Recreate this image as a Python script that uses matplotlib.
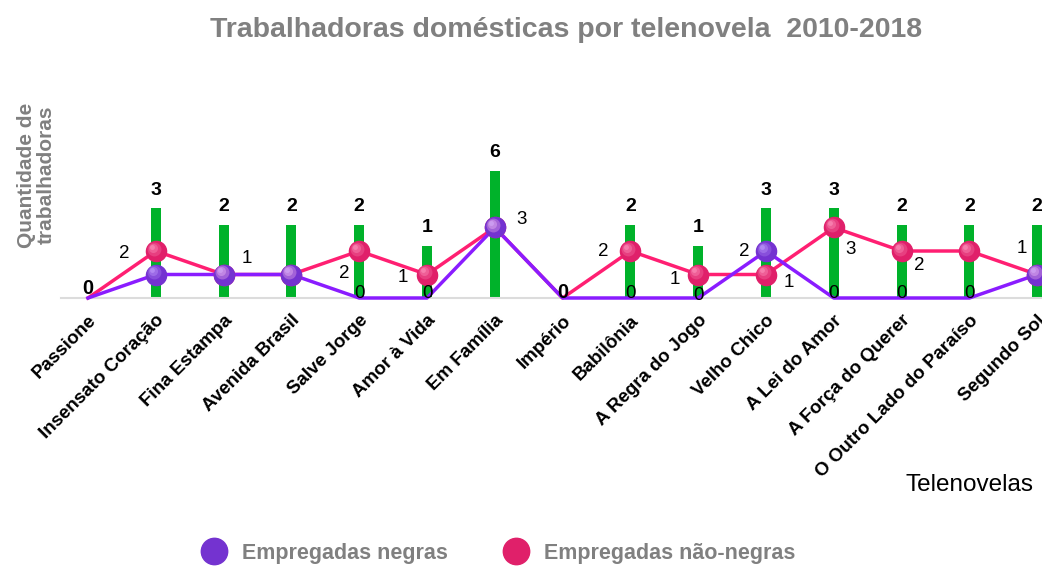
import numpy as np
import matplotlib
matplotlib.use("Agg")
import matplotlib.pyplot as plt
from matplotlib.lines import Line2D
from matplotlib.transforms import offset_copy

plt.rcParams['font.family'] = ['Liberation Sans', 'DejaVu Sans']

# data
novelas = ["Passione", "Insensato Coração", "Fina Estampa", "Avenida Brasil",
           "Salve Jorge", "Amor à Vida", "Em Família", "Império", "Babilônia",
           "A Regra do Jogo", "Velho Chico", "A Lei do Amor", "A Força do Querer",
           "O Outro Lado do Paraíso", "Segundo Sol"]
total = [0, 3, 2, 2, 2, 1, 6, 0, 2, 1, 3, 3, 2, 2, 2]
negras = [0, 1, 1, 1, 0, 0, 3, 0, 0, 0, 2, 0, 0, 0, 1]
nao_negras = [0, 2, 1, 1, 2, 1, 3, 0, 2, 1, 1, 3, 2, 2, 1]

# which point labels are shown, with offsets in px (dx, dy up)
lab_neg = {0: (0, 9, True), 4: (0, 5, False), 5: (0, 5, False), 6: (27, 8, False),
           7: (0, 6, True), 8: (0, 5, False), 9: (0, 3, False), 10: (-22, 0, False),
           11: (0, 5, False), 12: (0, 5, False), 13: (0, 5, False), 14: (-15, 26, False)}
lab_nn = {1: (-32, -2), 2: (23, 16), 4: (-15, -22), 5: (-24, -3), 8: (-27, 0),
          9: (-23, -5), 10: (23, -8), 11: (17, -22), 12: (18, -15)}

green = "#00b22a"
pink_line = "#ff1f72"
pink_mk = "#e0206a"
purple_line = "#8a1cff"
purple_mk = "#7433d0"
grey = "#808080"

fig = plt.figure(figsize=(10.42, 5.68), dpi=100)
W, H = 1042, 568
x0, dx = 88, 67.8
left_px = x0 - 0.4 * dx
width_px = 15 * dx
ax = fig.add_axes([left_px / W, (H - 298) / H, width_px / W, 158 / H])
x = np.arange(len(novelas))

# bars on a sqrt scale
ax.bar(x, total, width=0.15, color=green, zorder=1)
ax.set_yscale('function', functions=(np.sqrt, np.square))
ax.set_ylim(0, 9.3)
ax.set_xlim(-0.4, 14.6)
for xi, t in zip(x, total):
    if t > 0:
        ax.annotate(str(t), (xi, t), xytext=(0, 7), textcoords='offset points',
                    ha='center', va='bottom', fontsize=14, fontweight='bold')

for s in ['top', 'right', 'left']:
    ax.spines[s].set_visible(False)
ax.spines['bottom'].set_color('#dcdcdc')
ax.spines['bottom'].set_linewidth(1.5)
ax.set_yticks([])
ax.set_xticks(x)
ax.set_xticklabels(novelas, rotation=45, ha='right', rotation_mode='anchor',
                   fontsize=13.5, fontweight='bold')
ax.tick_params(axis='x', length=0, pad=10)

# lines on a linear twin axis
ax2 = ax.twinx()
ax2.set_ylim(0, 158 / 23.5)
ax2.set_axis_off()


def sphere(axis, xs, ys, color, light):
    xs = np.asarray(xs)
    ys = np.asarray(ys)
    axis.plot(xs, ys, 'o', ms=14.5, color=color, mec=color, zorder=4, clip_on=False)
    for k, (sz, a) in enumerate([(10, 0.25), (6.5, 0.35), (3.5, 0.5)]):
        tr = offset_copy(axis.transData, fig=fig, x=-1.5 - k * 0.7, y=1.5 + k * 0.7, units='points')
        axis.plot(xs, ys, 'o', ms=sz, color=light, alpha=a, mew=0, zorder=5,
                  transform=tr, clip_on=False)


ax2.plot(x, nao_negras, color=pink_line, lw=2.5, zorder=2, clip_on=False)
ax2.plot(x, negras, color=purple_line, lw=2.5, zorder=3, clip_on=False)
nn = np.array(nao_negras)
ng = np.array(negras)
sphere(ax2, x[nn > 0], nn[nn > 0], pink_mk, '#ff9cc4')
sphere(ax2, x[ng > 0], ng[ng > 0], purple_mk, '#c7a4ff')

for i, (ox, oy) in lab_nn.items():
    ax2.annotate(str(nao_negras[i]), (x[i], nao_negras[i]), xytext=(ox * 0.72, oy * 0.72),
                 textcoords='offset points', ha='center', va='center', fontsize=13.5,
                 zorder=6, annotation_clip=False)
for i, (ox, oy, b) in lab_neg.items():
    ax2.annotate(str(negras[i]), (x[i], negras[i]), xytext=(ox * 0.72, oy * 0.72),
                 textcoords='offset points', ha='center', va='center',
                 fontsize=14.5 if b else 13.5, fontweight='bold' if b else 'normal',
                 zorder=6, annotation_clip=False)

fig.text(566 / W, 1 - 30 / H, "Trabalhadoras domésticas por telenovela  2010-2018",
         ha='center', va='center', fontsize=20.5, fontweight='bold', color=grey)
fig.text(36 / W, 1 - 175 / H, "Quantidade de\ntrabalhadoras", rotation=90,
         ha='center', va='center', fontsize=15, fontweight='bold', color=grey,
         linespacing=1.05)
fig.text(1033 / W, 1 - 485 / H, "Telenovelas", ha='right', va='center', fontsize=17.5)

handles = [Line2D([0], [0], marker='o', ls='', ms=19, color=purple_mk, label='Empregadas negras'),
           Line2D([0], [0], marker='o', ls='', ms=19, color=pink_mk, label='Empregadas não-negras')]
leg = fig.legend(handles=handles, loc='center', bbox_to_anchor=(494 / W, 1 - 553 / H),
                 ncol=2, frameon=False, fontsize=15.5, columnspacing=2.2, handletextpad=0.3)
for t in leg.get_texts():
    t.set_color(grey)
    t.set_fontweight('bold')

fig.savefig("out.png", dpi=100)
